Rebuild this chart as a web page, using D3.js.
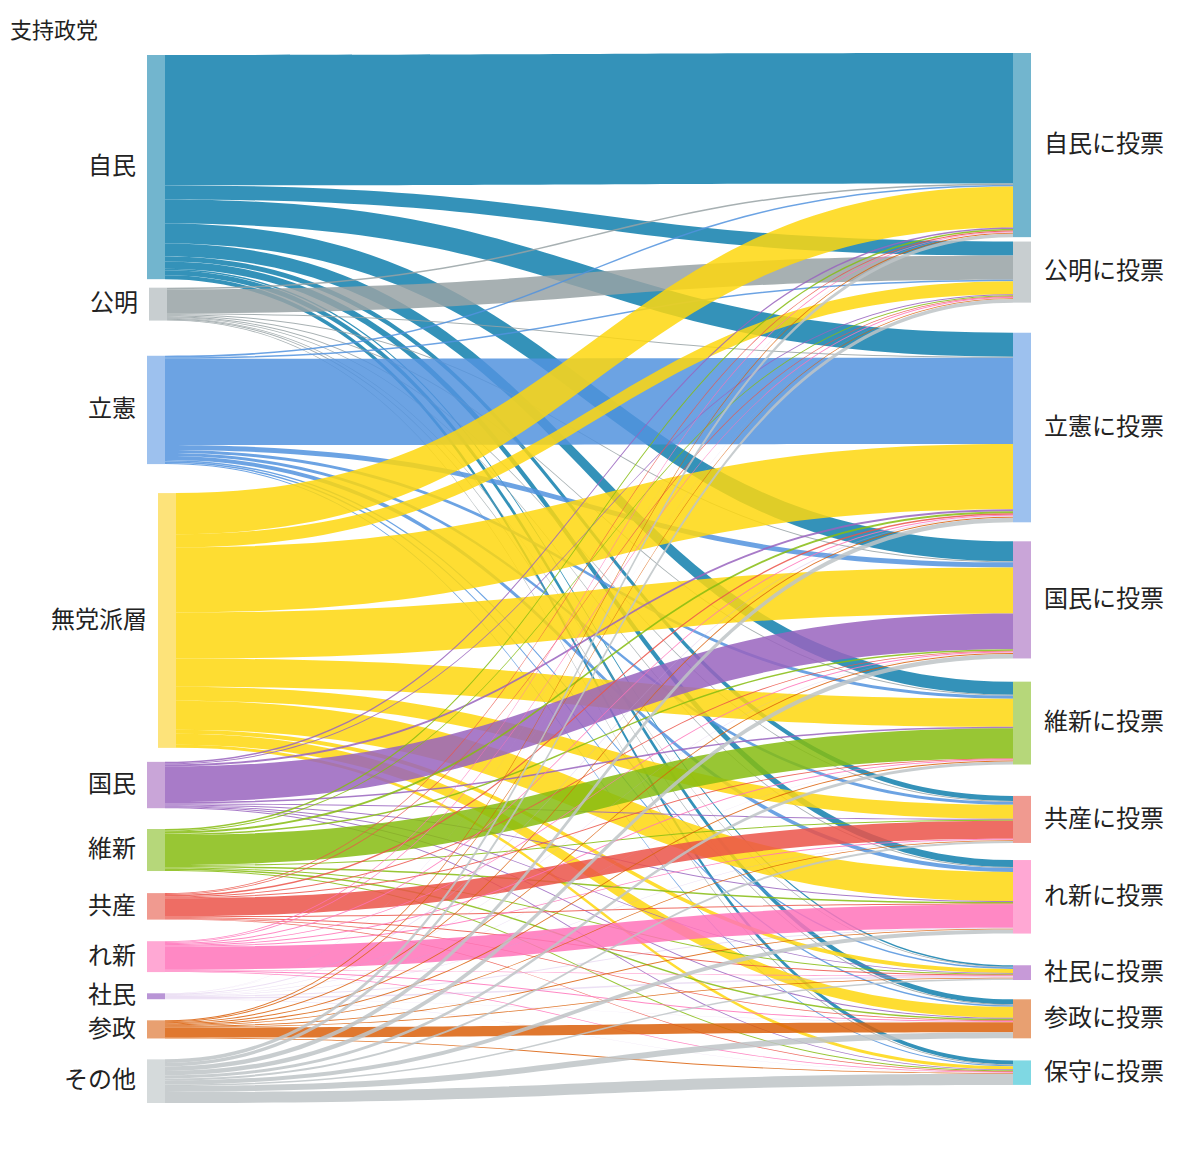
<!DOCTYPE html>
<html><head><meta charset="utf-8">
<script src="https://cdn.jsdelivr.net/npm/d3@7"></script>
<style>body{margin:0;background:#fff}text{font-family:"Noto Sans CJK JP","Noto Sans",sans-serif;fill:#222}</style>
</head><body><svg id="c" width="1200" height="1161"></svg>
<script>
// ---------- data ----------
const title = "支持政党";
const sourceNames = ["自民","公明","立憲","無党派層","国民","維新","共産","れ新","社民","参政","その他"];
const targetNames = ["自民に投票","公明に投票","立憲に投票","国民に投票","維新に投票","共産に投票","れ新に投票","社民に投票","参政に投票","保守に投票"];
// flows from each supported party to each vote (same order as targetNames)
const fromJimin   = [130, 14, 24, 20, 13, 5, 7, 1.5, 5, 4];
const fromKomei   = [1.5, 24, 1, 1, 1, 0.9, 0.9, 0.6, 1, 0.9];
const fromRikken  = [1.5, 1.5, 86, 5, 3, 3, 4, 1.5, 1.5, 1];
const fromMuto    = [41, 13, 65, 46, 28, 14, 29, 4, 11, 3];
const fromKokumin = [1.5, 1, 2, 35.5, 1.5, 0.9, 1, 0.9, 1, 0.9];
const fromIshin   = [1.5, 1, 2, 1.5, 30, 1, 1.5, 0.9, 1.5, 1];
const fromKyosan  = [0.9, 0.9, 1.5, 0.9, 0.9, 18, 1, 0.9, 0.7, 0.7];
const fromReiwa   = [0.9, 0.9, 1, 0.9, 0.9, 0.9, 23, 0.7, 0.9, 0.7];
const fromShamin  = [0.3, 0.2, 1, 0.5, 0.3, 0.5, 1, 1.5, 0.3, 0.3];
const fromSansei  = [1, 0.9, 1, 1, 1, 0.7, 0.9, 0.7, 10, 0.9];
const fromOther   = [3.5, 3.5, 4.5, 4.5, 3, 2, 4, 1.5, 6, 11];
const flowRows = [fromJimin, fromKomei, fromRikken, fromMuto, fromKokumin, fromIshin, fromKyosan, fromReiwa, fromShamin, fromSansei, fromOther];

// ---------- styles / layout ----------
const linkColors = ["#107fad","#98a2a4","#5293de","#fed70e","#9964be","#86bc10","#eb5449","#ff73ba","#c9a7e0","#db600b","#bec4c7"];
const linkOpacity = [0.85,0.85,0.85,0.85,0.85,0.85,0.85,0.85,0.35,0.85,0.85];
const srcNodeColors = ["#72b5ce","#c8ced0","#9dc1ee","#fde37a","#c9a5d8","#b6d77a","#f09a90","#ffa8d4","#b995d6","#e8a071","#d5dadb"];
const tgtNodeColors = ["#72b5ce","#c8ced0","#9dc1ee","#c9a5d8","#b6d77a","#f09a90","#ffa8d4","#c79ad8","#e8a071","#7fd8e3"];
const leftGaps  = [8.5, 35.2, 29, 14, 20.8, 22.1, 21.6, 21.2, 21.1, 20.9];
const rightGaps = [4.4, 30.1, 19, 23.2, 31.4, 17.1, 31.7, 19.3, 22.1];
const leftShift = [0, 2, 0, 11, 0, 0, 0, 0, 0, 0, 0];
const leftX = 147, rightX = 1013, nodeW = 18;
const leftTop = 55, leftBottom = 1103, rightTop = 53;

const svg = d3.select("#c");
svg.append("rect").attr("width",1200).attr("height",1161).attr("fill","#fff");

const srcTotals = flowRows.map(r => d3.sum(r));
const tgtTotals = targetNames.map((_, j) => d3.sum(flowRows, r => r[j]));
const total = d3.sum(srcTotals);
const ky = d3.scaleLinear().domain([0, total]).range([0, leftBottom - leftTop - d3.sum(leftGaps)]);

// node layout
const srcNodes = [];
let y = leftTop;
sourceNames.forEach((n, i) => {
  if (i > 0) y += leftGaps[i - 1];
  const h = ky(srcTotals[i]);
  srcNodes.push({name: n, x: leftX + leftShift[i], y0: y, y1: y + h});
  y += h;
});
const tgtNodes = [];
y = rightTop;
targetNames.forEach((n, j) => {
  if (j > 0) y += rightGaps[j - 1];
  const h = ky(tgtTotals[j]);
  tgtNodes.push({name: n, x: rightX, y0: y, y1: y + h});
  y += h;
});

// link layout
const links = [];
const tOff = tgtNodes.map(t => t.y0);
flowRows.forEach((row, i) => {
  let sOff = srcNodes[i].y0;
  row.forEach((v, j) => {
    const w = ky(v);
    links.push({s: i, t: j, w, sy: sOff, ty: 0});
    sOff += w;
  });
});
for (let j = 0; j < targetNames.length; j++) {
  links.filter(l => l.t === j).sort((a, b) => a.s - b.s).forEach(l => { l.ty = tOff[j]; tOff[j] += l.w; });
}

function bandPath(l) {
  const xa = srcNodes[l.s].x + nodeW, xb = rightX;
  const xm = (xa + xb) / 2;
  const a = l.sy, b = l.ty, w = l.w;
  return `M${xa},${a}C${xm},${a} ${xm},${b} ${xb},${b}L${xb},${b + w}C${xm},${b + w} ${xm},${a + w} ${xa},${a + w}Z`;
}

svg.append("g").selectAll("path").data(links).join("path")
  .attr("d", bandPath)
  .attr("fill", d => linkColors[d.s])
  .attr("fill-opacity", d => linkOpacity[d.s]);

svg.append("g").selectAll("rect").data(srcNodes).join("rect")
  .attr("x", d => d.x).attr("y", d => d.y0).attr("width", nodeW).attr("height", d => d.y1 - d.y0)
  .attr("fill", (d, i) => srcNodeColors[i]);
svg.append("g").selectAll("rect").data(tgtNodes).join("rect")
  .attr("x", d => d.x).attr("y", d => d.y0).attr("width", nodeW).attr("height", d => d.y1 - d.y0)
  .attr("fill", (d, i) => tgtNodeColors[i]);

svg.append("g").selectAll("text").data(srcNodes).join("text")
  .attr("x", d => d.x - 11).attr("y", d => (d.y0 + d.y1) / 2).attr("dy", "0.3em")
  .attr("text-anchor", "end").attr("font-size", 24).text(d => d.name);
svg.append("g").selectAll("text").data(tgtNodes).join("text")
  .attr("x", d => d.x + nodeW + 13).attr("y", d => (d.y0 + d.y1) / 2).attr("dy", "0.3em")
  .attr("text-anchor", "start").attr("font-size", 24).text(d => d.name);

svg.append("text").attr("x", 10).attr("y", 31).attr("dy", "0.32em").attr("font-size", 22).text(title);
</script></body></html>
